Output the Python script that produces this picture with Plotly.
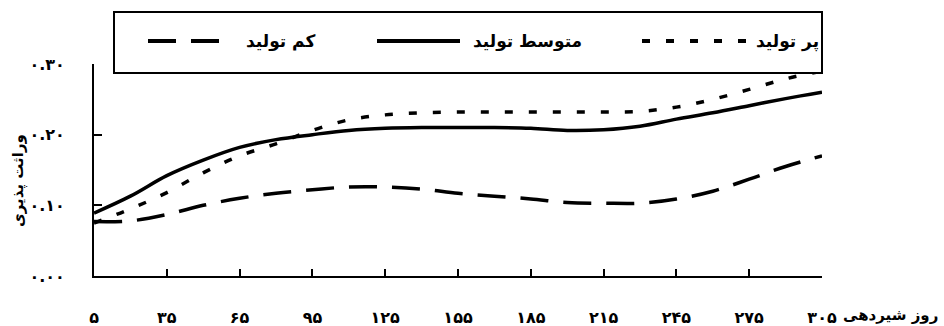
import plotly.graph_objects as go

# Lactation day and heritability estimates for three production groups
days = [5, 20, 35, 50, 65, 80, 95, 110, 125, 140, 155, 170, 185, 200, 215, 230, 245, 260, 275, 290, 305]

low_prod = [0.077, 0.078, 0.087, 0.100, 0.110, 0.117, 0.122, 0.126, 0.126, 0.123, 0.117,
            0.113, 0.109, 0.104, 0.103, 0.103, 0.109, 0.120, 0.137, 0.155, 0.170]
mid_prod = [0.089, 0.113, 0.142, 0.164, 0.182, 0.193, 0.200, 0.206, 0.209, 0.210, 0.210,
            0.210, 0.209, 0.206, 0.207, 0.212, 0.222, 0.231, 0.241, 0.251, 0.260]
high_prod = [0.075, 0.095, 0.118, 0.146, 0.170, 0.187, 0.206, 0.221, 0.228, 0.231, 0.232,
             0.232, 0.232, 0.232, 0.232, 0.233, 0.239, 0.250, 0.264, 0.279, 0.290]

x_ticks = [5, 35, 65, 95, 125, 155, 185, 215, 245, 275, 305]
x_tick_text = ["۵", "۳۵", "۶۵", "۹۵", "۱۲۵", "۱۵۵", "۱۸۵", "۲۱۵", "۲۴۵", "۲۷۵", "۳۰۵"]
y_ticks = [0.0, 0.1, 0.2, 0.3]
y_tick_text = ["۰.۰۰", "۰.۱۰", "۰.۲۰", "۰.۳۰"]

series_names = ["کم تولید", "متوسط تولید", "پر تولید"]
x_title = "روز شیردهی"
y_title = "وراثت پذیری"

FONT = "DejaVu Sans"
LOW_DASH = "28px,15px"
HIGH_DASH = "8px,16px"

fig = go.Figure()
fig.add_trace(go.Scatter(x=days, y=low_prod, mode="lines", name=series_names[0],
                         line=dict(color="black", width=3.5, dash=LOW_DASH, shape="spline")))
fig.add_trace(go.Scatter(x=days, y=mid_prod, mode="lines", name=series_names[1],
                         line=dict(color="black", width=3.5, shape="spline")))
fig.add_trace(go.Scatter(x=days, y=high_prod, mode="lines", name=series_names[2],
                         line=dict(color="black", width=3.5, dash=HIGH_DASH, shape="spline")))

W, H = 944, 326
L, R, T, B = 94, 122, 64, 50
PW, PH = W - L - R, H - T - B


def paper_x(xp):
    return (xp - L) / PW


def paper_y(yp):
    return (H - B - yp) / PH


shapes = []
annotations = []

# legend frame
shapes.append(dict(type="rect", xref="paper", yref="paper", layer="above",
                   x0=paper_x(114), x1=paper_x(822), y0=paper_y(73), y1=paper_y(12),
                   line=dict(color="black", width=2), fillcolor="white"))

legend_items = [
    (series_names[0], LOW_DASH, 148, 220, 280),
    (series_names[1], "solid", 377, 460, 527),
    (series_names[2], HIGH_DASH, 642, 753, 787),
]
ly = 41
for name, dash, sx0, sx1, tx in legend_items:
    shapes.append(dict(type="line", xref="paper", yref="paper", layer="above",
                       x0=paper_x(sx0), x1=paper_x(sx1), y0=paper_y(ly), y1=paper_y(ly),
                       line=dict(color="black", width=4, dash=dash)))
    annotations.append(dict(text=name, xref="paper", yref="paper", showarrow=False,
                            x=paper_x(tx), y=paper_y(ly),
                            xanchor="center", yanchor="middle",
                            font=dict(family=FONT, size=17, color="black", weight=700)))

# axis titles
annotations.append(dict(text=x_title, xref="paper", yref="paper", showarrow=False,
                        x=paper_x(940), y=paper_y(315), xanchor="right", yanchor="middle",
                        font=dict(family=FONT, size=15, color="black", weight=700)))
annotations.append(dict(text=y_title, xref="paper", yref="paper", showarrow=False,
                        x=paper_x(18), y=paper_y(181), xanchor="center", yanchor="middle",
                        textangle=-90,
                        font=dict(family=FONT, size=15, color="black", weight=700)))

tick_font = dict(family=FONT, size=16, color="black", weight=700)

fig.update_layout(
    width=W, height=H,
    margin=dict(l=L, r=R, t=T, b=B),
    paper_bgcolor="white", plot_bgcolor="white",
    showlegend=False,
    font=dict(family=FONT, size=16, color="black"),
    shapes=shapes,
    annotations=annotations,
    xaxis=dict(range=[5, 305], tickvals=x_ticks, ticktext=x_tick_text, automargin=False,
               showgrid=False, zeroline=False, showline=True, linecolor="black", linewidth=2,
               ticks="inside", ticklen=7, tickwidth=2, tickcolor="black",
               ticklabelstandoff=26, tickfont=tick_font),
    yaxis=dict(range=[0, 0.30], tickvals=y_ticks, ticktext=y_tick_text, automargin=False,
               showgrid=False, zeroline=False, showline=True, linecolor="black", linewidth=2,
               ticks="inside", ticklen=8, tickwidth=2, tickcolor="black",
               ticklabelstandoff=24, tickfont=tick_font),
)

fig.write_html("out.html")
